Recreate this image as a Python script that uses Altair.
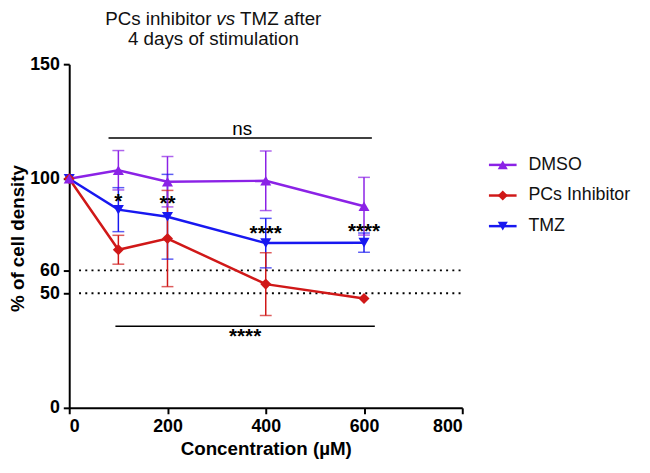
import altair as alt
import pandas as pd

FONT = "Liberation Sans"

# ---------------- data ----------------
series = ["DMSO", "PCs Inhibitor", "TMZ"]
colors = ["#8B22E6", "#D01818", "#1818F0"]
marker_shapes = ["triangle-up", "diamond", "triangle-down"]

conc = [0, 100, 200, 400, 600]
dmso_mean = [100, 103.7, 98.7, 99.1, 88.0]
dmso_err = [0, 8.6, 11.0, 13.0, 12.6]
pcs_mean = [100, 69.0, 73.9, 54.0, 47.7]
pcs_err = [0, 6.3, 21.0, 13.7, 0]
tmz_mean = [100, 86.5, 83.4, 71.9, 72.1]
tmz_err = [0, 9.6, 18.5, 10.8, 4.2]

ref_levels = [60, 50]
ref_x_start = [20, 20]
ref_x_end = [800, 800]

sig_labels = ["ns", "****"]
sig_y = [117.8, 35.6]
sig_x1 = [80, 94]
sig_x2 = [616, 622]
sig_text_x = [352, 358]
sig_text_y = [121.5, 33]

star_labels = ["*", "**", "****", "****"]
star_x = [100, 200, 400, 600]
star_y = [92, 91, 78, 79]

x_ticks = [0, 200, 400, 600, 800]
y_ticks = [0, 50, 60, 100, 150]

title_line1 = ["PCs inhibitor", "vs", "TMZ after"]
title_line2 = "4 days of stimulation"

# ---------------- tables ----------------
rows = []
for name, m, e in [("TMZ", tmz_mean, tmz_err),
                   ("PCs Inhibitor", pcs_mean, pcs_err),
                   ("DMSO", dmso_mean, dmso_err)]:
    for c, mv, ev in zip(conc, m, e):
        rows.append({"series": name, "conc": c, "mean": mv,
                     "lo": mv - ev, "hi": mv + ev, "err": ev})
df = pd.DataFrame(rows)
err_df = df[df["err"] > 0]
caps = pd.concat([
    err_df.assign(v=err_df["lo"]),
    err_df.assign(v=err_df["hi"]),
])

ref_df = pd.DataFrame({"x1": ref_x_start, "x2": ref_x_end, "y": ref_levels})
sig_df = pd.DataFrame({"x1": sig_x1, "x2": sig_x2, "y": sig_y,
                       "tx": sig_text_x, "ty": sig_text_y, "label": sig_labels})
star_df = pd.DataFrame({"x": star_x, "y": star_y, "label": star_labels})
key_df = pd.DataFrame({"series": series, "row": list(range(len(series)))})

# ---------------- scales / axes ----------------
xs = alt.Scale(domain=[0, 800], nice=False, zero=False)
ys = alt.Scale(domain=[0, 150], nice=False, zero=False)
x_axis = alt.Axis(values=x_ticks, title="Concentration (µM)", labelPadding=4,
                  titlePadding=4, format="d")
y_axis = alt.Axis(values=y_ticks, title="% of cell density", labelPadding=4,
                  titleX=-52, titleY=176, titleAngle=-90, titleAlign="center",
                  titleBaseline="middle", format="d")
col = alt.Scale(domain=series, range=colors)


def X(f):
    return alt.X(f, type="quantitative", scale=xs, axis=x_axis)


def Y(f):
    return alt.Y(f, type="quantitative", scale=ys, axis=y_axis)


ref = alt.Chart(ref_df).mark_rule(strokeDash=[2, 4.3], strokeWidth=2, color="black").encode(
    x=X("x1"), x2="x2:Q", y=Y("y"))

sig_rules = alt.Chart(sig_df).mark_rule(strokeWidth=1.5, color="black").encode(
    x=X("x1"), x2="x2:Q", y=Y("y"))

ns_df = sig_df.iloc[[0]]
bot_df = sig_df.iloc[[1]]
sig_ns = alt.Chart(ns_df).mark_text(fontSize=19, font=FONT, color="black",
                                    baseline="middle").encode(
    x=X("tx"), y=Y("ty"), text="label:N")
sig_stars = alt.Chart(bot_df).mark_text(fontSize=21, font=FONT, fontWeight="bold",
                                        color="black", baseline="middle", dy=5).encode(
    x=X("tx"), y=Y("ty"), text="label:N")

stars = alt.Chart(star_df).mark_text(fontSize=21, font=FONT, fontWeight="bold",
                                     color="black", baseline="middle", dy=5).encode(
    x=X("x"), y=Y("y"), text="label:N")

err_rule = alt.Chart(err_df).mark_rule(strokeWidth=1.5).encode(
    x=X("conc"), y=Y("lo"), y2="hi:Q",
    color=alt.Color("series:N", scale=col, legend=None))

err_caps = alt.Chart(caps).mark_tick(orient="horizontal", size=12, thickness=1.5).encode(
    x=X("conc"), y=Y("v"),
    color=alt.Color("series:N", scale=col, legend=None))

lines = alt.Chart(df).mark_line(strokeWidth=2.5).encode(
    x=X("conc"), y=Y("mean"),
    color=alt.Color("series:N", scale=col, legend=None))

point_layers = []
for s, shp in zip(["TMZ", "PCs Inhibitor", "DMSO"],
                  [marker_shapes[2], marker_shapes[1], marker_shapes[0]]):
    point_layers.append(
        alt.Chart(df[df["series"] == s]).mark_point(
            filled=True, size=125, opacity=1, shape=shp).encode(
            x=X("conc"), y=Y("mean"),
            color=alt.Color("series:N", scale=col, legend=None)))

# title built from text pieces (for the italic "vs")
TY1, TY2 = -40, -19
t1 = alt.Chart(pd.DataFrame({"t": [title_line1[0]]})).mark_text(
    font=FONT, fontSize=19, align="right", baseline="alphabetic", color="#111111").encode(
    x=alt.value(144), y=alt.value(TY1), text="t:N")
t2 = alt.Chart(pd.DataFrame({"t": [title_line1[1]]})).mark_text(
    font=FONT, fontSize=19, fontStyle="italic", align="left", baseline="alphabetic",
    color="#111111").encode(x=alt.value(149), y=alt.value(TY1), text="t:N")
t3 = alt.Chart(pd.DataFrame({"t": [title_line1[2]]})).mark_text(
    font=FONT, fontSize=19, align="left", baseline="alphabetic", color="#111111").encode(
    x=alt.value(173), y=alt.value(TY1), text="t:N")
t4 = alt.Chart(pd.DataFrame({"t": [title_line2]})).mark_text(
    font=FONT, fontSize=19, align="center", baseline="alphabetic", color="#111111").encode(
    x=alt.value(146), y=alt.value(TY2), text="t:N")

main = alt.layer(
    ref, sig_rules, sig_ns, sig_stars, err_rule, err_caps, lines, *point_layers, stars,
    t1, t2, t3, t4
)

# ---------------- legend (line + marker + label per series) ----------------
leg_y = alt.Y("row:Q", scale=alt.Scale(domain=[0, 2], range=[102, 164], nice=False,
                                       zero=False), axis=None)
leg_col = alt.Color("series:N", scale=col, legend=None)
leg_line = alt.Chart(key_df).mark_rule(strokeWidth=2.5).encode(
    x=alt.value(425), x2=alt.value(453), y=leg_y, color=leg_col)
leg_mark = alt.Chart(key_df).mark_point(filled=True, size=105, opacity=1).encode(
    x=alt.value(439), y=leg_y, color=leg_col,
    shape=alt.Shape("series:N", scale=alt.Scale(domain=series, range=marker_shapes),
                    legend=None))
leg_text = alt.Chart(key_df).mark_text(font=FONT, fontSize=18, align="left",
                                       baseline="middle", color="#111111").encode(
    x=alt.value(465), y=leg_y, text="series:N")
legend = alt.layer(leg_line, leg_mark, leg_text)

chart = alt.layer(main, legend).resolve_scale(y="independent").properties(
    width=398, height=348,
    padding={"left": 62, "top": 54, "right": 182, "bottom": 55},
    autosize=alt.AutoSizeParams(type="none"),
).configure_view(stroke=None).configure_axis(
    labelFont=FONT, labelFontSize=18, labelFontWeight="bold", labelColor="black",
    titleFont=FONT, titleFontSize=19, titleFontWeight="bold", titleColor="black",
    domainColor="black", domainWidth=2, tickColor="black", tickWidth=2, tickSize=6,
    grid=False,
)

chart.save("out.html", embed_options={"renderer": "svg", "actions": False})
